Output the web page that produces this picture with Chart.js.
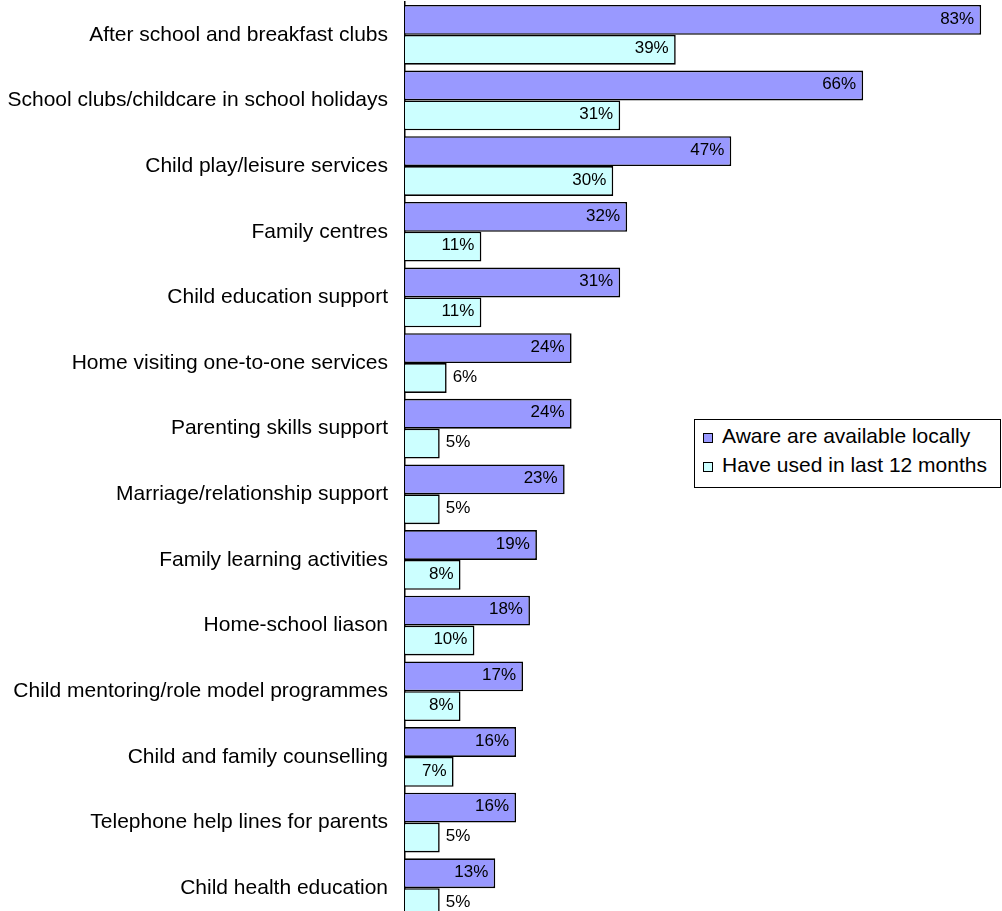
<!DOCTYPE html>
<html>
<head>
<meta charset="utf-8">
<script src="https://cdn.jsdelivr.net/npm/chart.js@4/dist/chart.umd.min.js"></script>
<style>
  html, body { margin: 0; padding: 0; background: #fff; overflow: hidden; }
  #wrap { position: relative; width: 1002px; height: 921px; }
  #legend {
    position: absolute; left: 694px; top: 419px; width: 305px; height: 67px;
    border: 1px solid #000; background: #fff;
    font-family: "Liberation Sans", Arial, sans-serif; font-size: 21px; line-height: 20px; color: #000;
  }
  .sw { position: absolute; left: 8px; width: 8px; height: 8px; border: 1px solid #000; }
  .txt { position: absolute; left: 27px; white-space: nowrap; }
</style>
</head>
<body>
<div id="wrap">
  <canvas id="chart" width="1002" height="921"></canvas>
  <div id="legend"></div>
</div>
<script>
const categories = [
  'After school and breakfast clubs',
  'School clubs/childcare in school holidays',
  'Child play/leisure services',
  'Family centres',
  'Child education support',
  'Home visiting one-to-one services',
  'Parenting skills support',
  'Marriage/relationship support',
  'Family learning activities',
  'Home-school liason',
  'Child mentoring/role model programmes',
  'Child and family counselling',
  'Telephone help lines for parents',
  'Child health education'
];
const aware = [83, 66, 47, 32, 31, 24, 24, 23, 19, 18, 17, 16, 16, 13];
const used = [39, 31, 30, 11, 11, 6, 5, 5, 8, 10, 8, 7, 5, 5];
const seriesNames = ['Aware are available locally', 'Have used in last 12 months'];
const colors = ['#9999FF', '#CCFFFF'];

// libellés de valeur, dedans si la barre est assez longue
const valueLabels = {
    id: 'valueLabels',
    afterDatasetsDraw(chart) {
        const ctx = chart.ctx;
        ctx.save();
        ctx.font = '17px "Liberation Sans", Arial, sans-serif';
        ctx.fillStyle = '#000';
        ctx.textBaseline = 'middle';
        chart.data.datasets.forEach((ds, di) => {
            chart.getDatasetMeta(di).data.forEach((bar, i) => {
                const v = ds.data[i];
                const txt = v + '%';
                if (v >= 7) {
                    ctx.textAlign = 'right';
                    ctx.fillText(txt, bar.x - 7, bar.y - 1);
                } else {
                    ctx.textAlign = 'left';
                    ctx.fillText(txt, bar.x + 6, bar.y - 1);
                }
            });
        });
        ctx.restore();
    }
};

new Chart(document.getElementById('chart'), {
    type: 'bar',
    data: {
        labels: categories,
        datasets: [
            { label: seriesNames[0], data: aware, backgroundColor: colors[0], borderColor: '#000', borderWidth: 1.6 },
            { label: seriesNames[1], data: used, backgroundColor: colors[1], borderColor: '#000', borderWidth: 1.6 }
        ]
    },
    options: {
        indexAxis: 'y',
        responsive: false,
        animation: false,
        layout: { padding: { top: 2, right: 0, bottom: 0, left: 0 } },
        datasets: { bar: { categoryPercentage: 0.91, barPercentage: 1 } },
        scales: {
            x: { display: false, min: 0, max: 86 },
            y: {
                afterFit(scale) {
                    scale.width = 405;
                    scale.paddingTop = 0;
                    scale.paddingBottom = 0;
                },
                grid: { display: false, drawTicks: false },
                border: { display: true, color: '#000', width: 1.5 },
                ticks: {
                    color: '#000', padding: 17,
                    font: { family: '"Liberation Sans", Arial, sans-serif', size: 21 }
                }
            }
        },
        plugins: { legend: { display: false }, tooltip: { enabled: false } }
    },
    plugins: [valueLabels]
});

const legend = document.getElementById('legend');
seriesNames.forEach((name, i) => {
    const sw = document.createElement('span');
    sw.className = 'sw';
    sw.style.top = (i === 0 ? 13 : 42) + 'px';
    sw.style.background = colors[i];
    legend.appendChild(sw);
    const t = document.createElement('span');
    t.className = 'txt';
    t.style.top = (i === 0 ? 6 : 35) + 'px';
    t.textContent = name;
    legend.appendChild(t);
});
</script>
</body>
</html>
